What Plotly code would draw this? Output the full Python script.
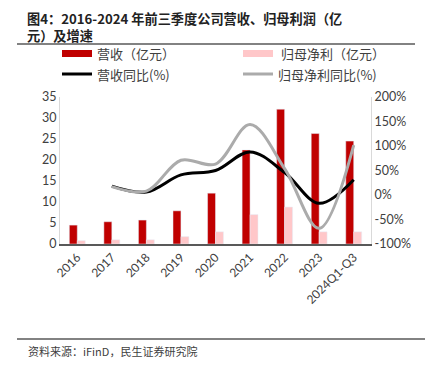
import plotly.graph_objects as go

categories = ["2016", "2017", "2018", "2019", "2020", "2021", "2022", "2023", "2024Q1-Q3"]
revenue = [4.5, 5.3, 5.7, 7.9, 12.1, 22.4, 32.1, 26.3, 24.5]
profit = [0.8, 1.0, 1.0, 1.75, 2.9, 7.0, 8.8, 2.9, 2.9]
rev_yoy = [None, 18, 6, 41, 50, 88, 46, -17, 31]
profit_yoy = [None, 17, 8, 71, 63, 144, 54, -68, 102]
left_ticks = [0, 5, 10, 15, 20, 25, 30, 35]
right_ticks = [-100, -50, 0, 50, 100, 150, 200]

RED = "#C00000"
PINK = "#FFC7C9"
GRAY = "#ABABAB"
FONT = "Lato, Noto Sans CJK SC"
CJK = "Noto Sans CJK SC"

# page body adds an 8px offset; the figure is sized to fill the rest of the window
W, H = 425, 359

fig = go.Figure()
fig.add_trace(go.Bar(x=categories, y=revenue, marker_color=RED, name="营收（亿元）", showlegend=False))
fig.add_trace(go.Bar(x=categories, y=profit, marker_color=PINK, name="归母净利（亿元）", showlegend=False))
fig.add_trace(go.Scatter(x=categories, y=rev_yoy, yaxis="y2", mode="lines", line=dict(color="black", width=3, shape="spline", smoothing=1.0), showlegend=False))
fig.add_trace(go.Scatter(x=categories, y=profit_yoy, yaxis="y2", mode="lines", line=dict(color=GRAY, width=3, shape="spline", smoothing=1.0), showlegend=False))

fig.update_layout(
    width=W, height=H,
    margin=dict(l=52, r=62, t=89, b=123, autoexpand=False),
    paper_bgcolor="white", plot_bgcolor="white",
    barmode="group", bargap=0.54, bargroupgap=0,
    font=dict(family=FONT, size=12, color="#404040"),
    xaxis=dict(tickangle=-45, showline=True, linecolor="#595959", linewidth=1.5,
               ticks="", tickfont=dict(size=12, color="#404040", family=FONT)),
    yaxis=dict(range=[0, 35], tickvals=left_ticks, showgrid=False, showline=True,
               linecolor="#D9D9D9", linewidth=1, ticks="", zeroline=False,
               tickfont=dict(size=12.5, color="#404040")),
    yaxis2=dict(range=[-100, 200], tickvals=right_ticks, ticktext=[f"{v}%" for v in right_ticks],
                overlaying="y", side="right", showgrid=False, showline=True,
                linecolor="#D9D9D9", linewidth=1, ticks="", zeroline=False,
                tickfont=dict(size=12.5, color="#404040")),
)

# convert reference-window pixels to plot-area paper coordinates
def px(x):
    return (x - 60) / 311

def py(y):
    return (244 - y) / 147

fig.add_annotation(xref="paper", yref="paper", x=px(26), y=py(8), borderpad=0,
                   xanchor="left", yanchor="top", align="left", showarrow=False,
                   text="<b>图4：2016-2024 年前三季度公司营收、归母利润（亿</b><br><b>元）及增速</b>",
                   font=dict(family=CJK, size=13.2, color="#222222"))

shapes = [
    dict(type="line", xref="paper", yref="paper", x0=px(17), x1=px(415), y0=py(44), y1=py(44), line=dict(color="#595959", width=1.5)),
    dict(type="line", xref="paper", yref="paper", x0=px(17), x1=px(427), y0=py(339), y1=py(339), line=dict(color="#595959", width=1.5)),
    dict(type="rect", xref="paper", yref="paper", x0=px(62), x1=px(92), y0=py(57), y1=py(50), fillcolor=RED, line=dict(width=0)),
    dict(type="rect", xref="paper", yref="paper", x0=px(243), x1=px(273), y0=py(57), y1=py(50), fillcolor=PINK, line=dict(width=0)),
    dict(type="line", xref="paper", yref="paper", x0=px(62), x1=px(92), y0=py(74), y1=py(74), line=dict(color="black", width=3)),
    dict(type="line", xref="paper", yref="paper", x0=px(243), x1=px(273), y0=py(74), y1=py(74), line=dict(color=GRAY, width=3)),
]
fig.update_layout(shapes=shapes)

legend_texts = [
    ("营收（亿元）", 96, 53.5),
    ("归母净利（亿元）", 280, 53.5),
    ("营收同比(%)", 96, 74),
    ("归母净利同比(%)", 277, 74),
]
for t, x, y in legend_texts:
    fig.add_annotation(xref="paper", yref="paper", x=px(x), y=py(y), xanchor="left", yanchor="middle",
                       borderpad=0, showarrow=False, text=t, font=dict(family=CJK, size=13, color="#404040"))

fig.add_annotation(xref="paper", yref="paper", x=px(26), y=py(351), xanchor="left", yanchor="middle",
                   showarrow=False, text="资料来源：iFinD，民生证券研究院",
                   font=dict(family=CJK, size=11, color="#404040"))

fig.write_html("out.html")
